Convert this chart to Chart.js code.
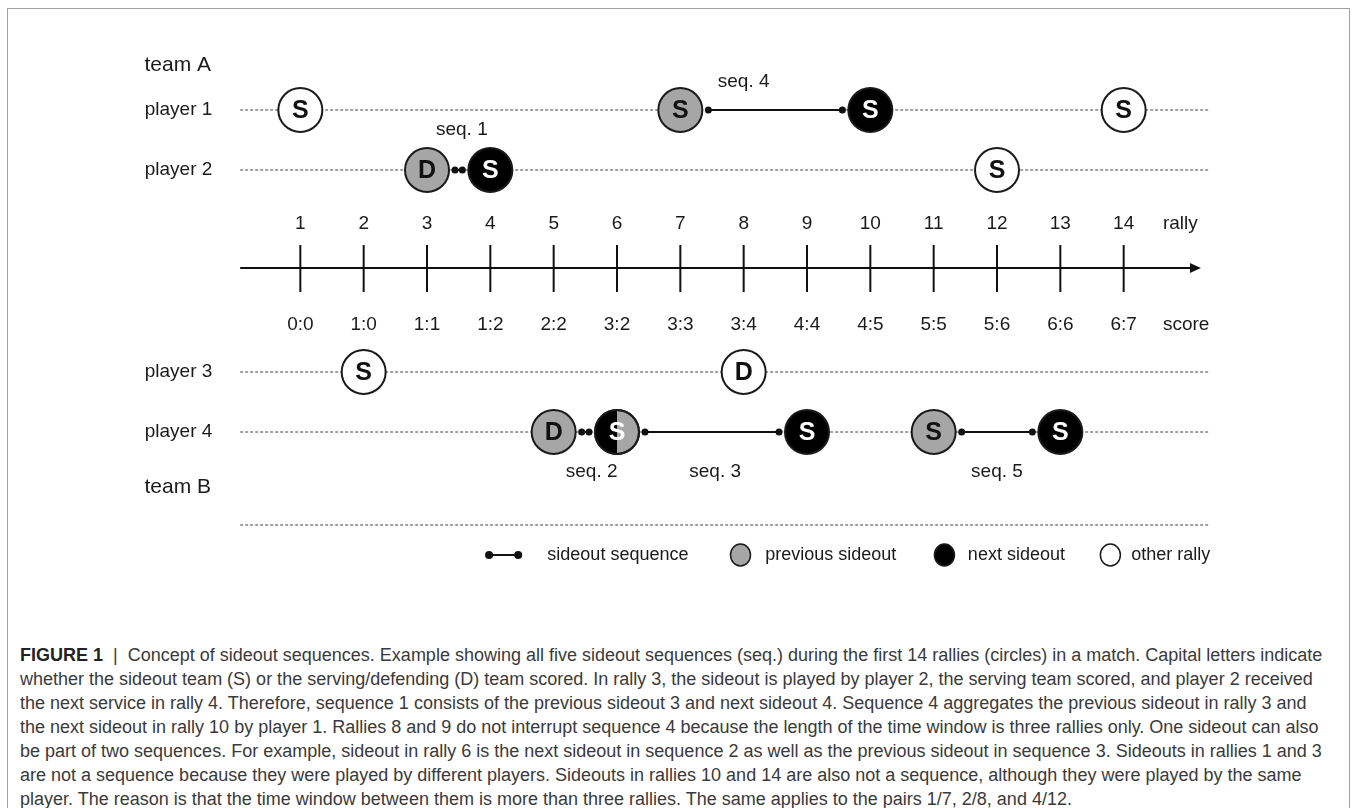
<!DOCTYPE html>
<html>
<head>
<meta charset="utf-8">
<script src="https://cdn.jsdelivr.net/npm/chart.js@4.4.1/dist/chart.umd.min.js"></script>
<style>
  body{margin:0;background:#fff;overflow:hidden;width:1356px;height:808px;position:relative;}
  #frame{position:absolute;left:7px;top:8px;width:1341px;height:900px;border:1px solid #a0a0a0;}
  #chart{position:absolute;left:0;top:0;}
  #caption{position:absolute;left:20px;top:643px;font:18px "Liberation Sans",Arial,sans-serif;line-height:24px;color:#3a3a3a;white-space:nowrap;}
  #caption b{color:#222;}
</style>
</head>
<body>
<div id="frame"></div>
<canvas id="chart" width="1356" height="600"></canvas>
<div id="caption">
<b>FIGURE 1</b> &nbsp;|&nbsp; Concept of sideout sequences. Example showing all five sideout sequences (seq.) during the first 14 rallies (circles) in a match. Capital letters indicate<br>
whether the sideout team (S) or the serving/defending (D) team scored. In rally 3, the sideout is played by player 2, the serving team scored, and player 2 received<br>
the next service in rally 4. Therefore, sequence 1 consists of the previous sideout 3 and next sideout 4. Sequence 4 aggregates the previous sideout in rally 3 and<br>
the next sideout in rally 10 by player 1. Rallies 8 and 9 do not interrupt sequence 4 because the length of the time window is three rallies only. One sideout can also<br>
be part of two sequences. For example, sideout in rally 6 is the next sideout in sequence 2 as well as the previous sideout in sequence 3. Sideouts in rallies 1 and 3<br>
are not a sequence because they were played by different players. Sideouts in rallies 10 and 14 are also not a sequence, although they were played by the same<br>
player. The reason is that the time window between them is more than three rallies. The same applies to the pairs 1/7, 2/8, and 4/12.
</div>
<script>
/* data */
const rallies=[1,2,3,4,5,6,7,8,9,10,11,12,13,14];
const scores=["0:0","1:0","1:1","1:2","2:2","3:2","3:3","3:4","4:4","4:5","5:5","5:6","6:6","6:7"];
const players=["player 1","player 2","player 3","player 4"];
const rallyPlayer=[1,3,2,2,4,4,1,3,4,1,4,2,4,1];
const rallyWinner=["S","S","D","S","D","S","S","D","S","S","S","S","S","S"];
const rallyRole=["other","other","prev","next","prev","both","prev","other","next","next","prev","other","next","other"];
const seqNames=["seq. 1","seq. 2","seq. 3","seq. 4","seq. 5"];
const seqFrom=[3,5,6,7,11];
const seqTo=[4,6,9,10,13];
const seqLabelAt=[3.55,5.6,7.55,8,12];
const seqSide=["above","below","below","above","below"];
const legendLabels=["sideout sequence","previous sideout","next sideout","other rally"];

/* layout (y in rows of 60px, x in rally units) */
const playerRow=[1.833,2.833,6.2,7.2];
const L={teamA:1.083,teamB:8.117,rallyY:3.73,axisY:4.467,scoreY:5.42,bottom:8.75,legend:9.25,
  lineFrom:0.05,lineTo:15.35,axisTo:15.22,labelX:-0.39,teamX:-1.46,unitX:14.62};
const R=22;
const GREY="#a6a6a6", INK="#1a1a1a";
const sans='"Liberation Sans",Arial,sans-serif';

const roleFill={prev:GREY,next:"#000",other:"#fff",both:GREY};
const roles=["other","prev","next","both"];

const datasets=roles.map(role=>({
  label:role,
  data:rallies.filter((r,i)=>rallyRole[i]===role)
    .map(r=>({x:r,y:playerRow[rallyPlayer[r-1]-1]})),
  pointRadius:R,
  pointBackgroundColor:roleFill[role],
  pointBorderColor:INK,
  pointBorderWidth:2,
  showLine:false
}));

const sketch={
  id:"sketch",
  beforeDatasetsDraw(chart){
    const c=chart.ctx, sx=chart.scales.x, sy=chart.scales.y;
    const px=v=>sx.getPixelForValue(v), py=v=>sy.getPixelForValue(v);
    c.save();

    // dashed guide lines
    c.strokeStyle="#444"; c.lineWidth=1; c.setLineDash([3,2]);
    [...playerRow,L.bottom].forEach(r=>{
      c.beginPath(); c.moveTo(px(L.lineFrom),py(r)); c.lineTo(px(L.lineTo),py(r)); c.stroke();
    });
    c.setLineDash([]);

    // timeline
    c.strokeStyle="#111"; c.fillStyle="#111"; c.lineWidth=2;
    const ay=py(L.axisY);
    c.beginPath(); c.moveTo(px(L.lineFrom),ay); c.lineTo(px(L.axisTo)-6,ay); c.stroke();
    c.beginPath(); c.moveTo(px(L.axisTo),ay); c.lineTo(px(L.axisTo)-11,ay-5); c.lineTo(px(L.axisTo)-11,ay+5); c.closePath(); c.fill();
    rallies.forEach(r=>{
      c.beginPath(); c.moveTo(px(r),ay-23); c.lineTo(px(r),ay+24); c.stroke();
    });

    // tick labels
    c.fillStyle="#1a1a1a"; c.textBaseline="middle"; c.textAlign="center";
    c.font="19px "+sans;
    rallies.forEach((r,i)=>{
      c.fillText(String(r),px(r),py(L.rallyY));
      c.fillText(scores[i],px(r),py(L.scoreY));
    });
    c.textAlign="left";
    c.fillText("rally",px(L.unitX),py(L.rallyY));
    c.fillText("score",px(L.unitX),py(L.scoreY));

    // row labels
    c.textAlign="right";
    players.forEach((p,i)=>c.fillText(p,px(L.labelX),py(playerRow[i])));
    c.textAlign="left"; c.font="21px "+sans;
    c.fillText("team A",px(L.teamX),py(L.teamA));
    c.fillText("team B",px(L.teamX),py(L.teamB));

    // sequence connectors
    c.strokeStyle="#111"; c.fillStyle="#111"; c.lineWidth=2;
    seqFrom.forEach((a,i)=>{
      const yy=py(playerRow[rallyPlayer[a-1]-1]);
      const xa=px(a)+R+6, xb=px(seqTo[i])-R-6;
      c.beginPath(); c.moveTo(xa,yy); c.lineTo(xb,yy); c.stroke();
      [xa,xb].forEach(xx=>{c.beginPath(); c.arc(xx,yy,3.5,0,Math.PI*2); c.fill();});
    });
    c.restore();
  },
  afterDatasetsDraw(chart){
    const c=chart.ctx, sx=chart.scales.x, sy=chart.scales.y;
    const px=v=>sx.getPixelForValue(v), py=v=>sy.getPixelForValue(v);
    c.save();

    // half next / half previous
    rallies.forEach((r,i)=>{
      if(rallyRole[i]!=="both") return;
      const cx=px(r), cy=py(playerRow[rallyPlayer[i]-1]);
      c.fillStyle="#000";
      c.beginPath(); c.arc(cx,cy,R,Math.PI/2,Math.PI*1.5); c.closePath(); c.fill();
      c.strokeStyle=INK; c.lineWidth=2;
      c.beginPath(); c.arc(cx,cy,R,0,Math.PI*2); c.stroke();
    });

    // letters
    c.font="bold 25px "+sans;
    c.textAlign="center"; c.textBaseline="middle";
    rallies.forEach((r,i)=>{
      const role=rallyRole[i];
      c.fillStyle=(role==="next"||role==="both")?"#fff":"#111";
      c.fillText(rallyWinner[i],px(r),py(playerRow[rallyPlayer[i]-1])+1);
    });

    // sequence labels
    c.font="19px "+sans; c.fillStyle="#1a1a1a";
    seqNames.forEach((s,i)=>{
      const row=playerRow[rallyPlayer[seqFrom[i]-1]-1];
      const off=seqSide[i]==="above"?(i===0?-40:-28):40;
      c.fillText(s,px(seqLabelAt[i]),py(row)+off);
    });

    // legend
    const ly=py(L.legend);
    c.strokeStyle="#111"; c.fillStyle="#111"; c.lineWidth=2;
    c.beginPath(); c.moveTo(px(3.98),ly); c.lineTo(px(4.44),ly); c.stroke();
    [3.98,4.44].forEach(v=>{c.beginPath(); c.arc(px(v),ly,4,0,Math.PI*2); c.fill();});
    [[7.95,GREY],[11.17,"#000"],[13.79,"#fff"]].forEach(([v,f])=>{
      c.beginPath(); c.ellipse(px(v),ly,10,11,0,0,Math.PI*2);
      c.fillStyle=f; c.fill(); c.lineWidth=1.5; c.strokeStyle=INK; c.stroke();
    });
    c.fillStyle="#1a1a1a"; c.textAlign="left"; c.font="18px "+sans;
    [4.9,8.34,11.54,14.12].forEach((v,i)=>c.fillText(legendLabels[i],px(v),ly));
    c.restore();
  }
};

new Chart(document.getElementById("chart"),{
  type:"scatter",
  data:{datasets},
  options:{
    responsive:false,
    animation:false,
    events:[],
    layout:{autoPadding:false,padding:{left:237,right:169,top:0,bottom:0}},
    scales:{
      x:{type:"linear",min:0,max:15,display:false},
      y:{type:"linear",min:0,max:10,reverse:true,display:false}
    },
    plugins:{legend:{display:false},tooltip:{enabled:false}},
    elements:{point:{hoverRadius:R}}
  },
  plugins:[sketch]
});
</script>
</body>
</html>
